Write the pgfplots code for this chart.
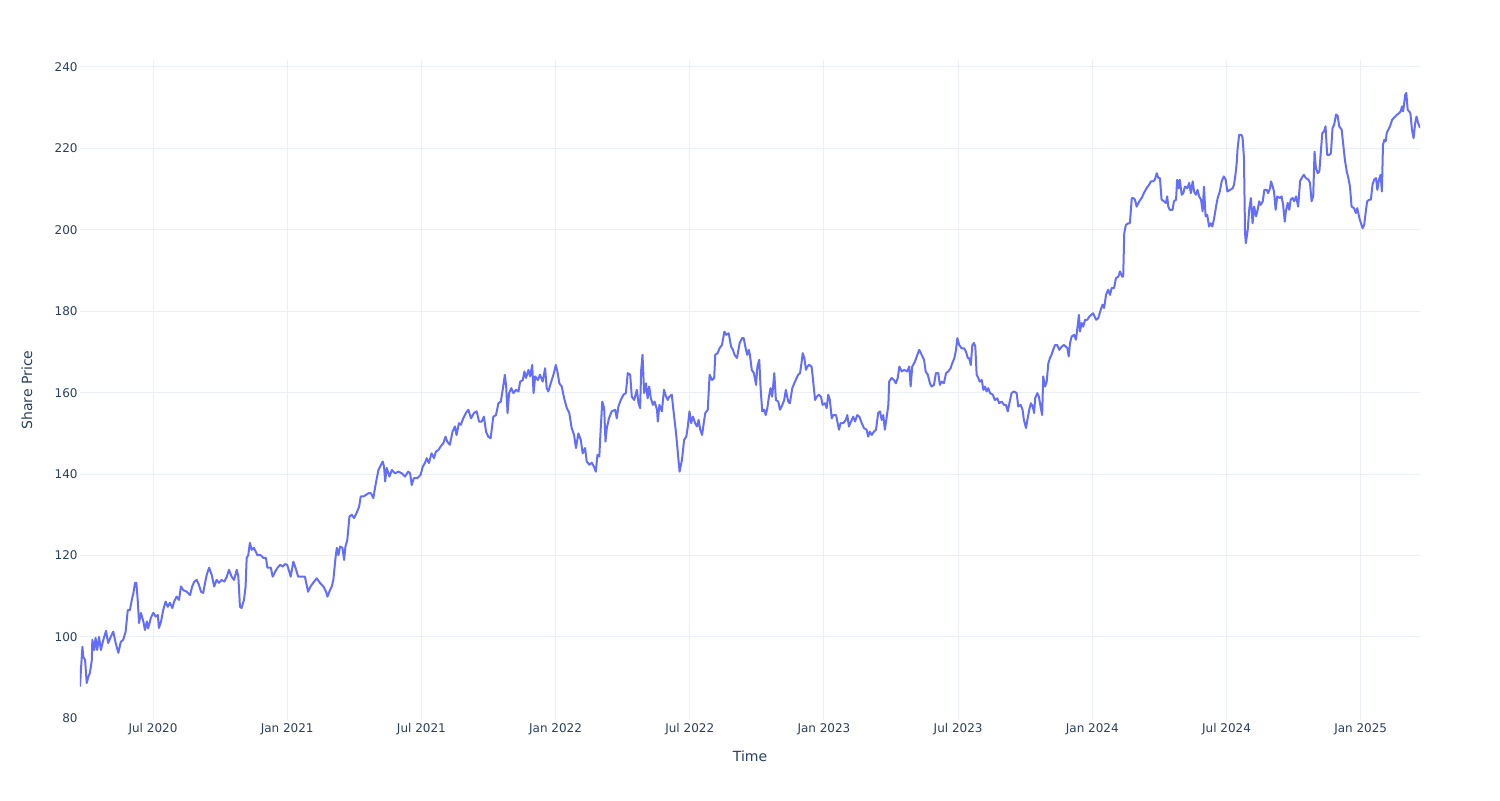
\documentclass[border=0pt]{standalone}
\usepackage{fontspec}
\setmainfont{DejaVu Sans}
\usepackage{pgfplots}
\usepackage{pgfplotstable}
\pgfplotsset{compat=1.18}
\definecolor{plotblue}{HTML}{636EFA}
\definecolor{gridc}{HTML}{EBF0F8}
\definecolor{txt}{HTML}{2A3F5F}
\pgfplotstableread{
t p
2020.228 87.8
2020.232 92.4
2020.237 97.6
2020.240 95.2
2020.247 94.3
2020.253 88.7
2020.259 90.2
2020.265 91.2
2020.272 94.3
2020.274 99.3
2020.281 96.8
2020.286 99.8
2020.292 96.8
2020.299 100.0
2020.306 96.8
2020.315 99.3
2020.325 101.5
2020.333 98.5
2020.343 100.1
2020.352 101.3
2020.361 98.5
2020.371 96.1
2020.380 98.8
2020.389 99.3
2020.398 101.3
2020.406 106.6
2020.414 106.6
2020.421 109.1
2020.427 110.8
2020.433 113.3
2020.438 113.3
2020.443 109.1
2020.448 103.4
2020.455 105.9
2020.464 103.8
2020.470 101.7
2020.477 103.8
2020.482 102.1
2020.492 104.7
2020.501 105.9
2020.510 105.0
2020.518 105.4
2020.522 102.2
2020.530 103.8
2020.538 106.6
2020.547 108.7
2020.555 107.4
2020.563 108.4
2020.572 107.1
2020.579 108.7
2020.588 109.9
2020.597 109.1
2020.604 112.4
2020.613 111.5
2020.626 111.1
2020.638 110.3
2020.646 112.4
2020.654 113.6
2020.663 114.0
2020.671 112.8
2020.679 111.1
2020.687 110.8
2020.694 113.3
2020.700 115.2
2020.709 117.0
2020.719 115.2
2020.728 112.4
2020.737 114.0
2020.746 113.3
2020.756 114.0
2020.766 113.6
2020.775 114.8
2020.783 116.5
2020.793 114.8
2020.802 114.0
2020.812 116.5
2020.818 114.8
2020.824 107.4
2020.830 107.1
2020.839 109.1
2020.845 112.4
2020.849 119.4
2020.855 120.1
2020.861 123.1
2020.868 121.4
2020.876 121.9
2020.889 120.1
2020.901 120.1
2020.911 119.4
2020.921 119.4
2020.926 117.0
2020.939 117.0
2020.946 114.8
2020.955 116.0
2020.964 117.0
2020.974 117.7
2020.984 117.3
2020.992 117.9
2021.000 117.7
2021.008 116.0
2021.013 114.8
2021.023 118.5
2021.031 117.0
2021.041 114.8
2021.054 114.8
2021.066 114.8
2021.078 111.1
2021.087 112.4
2021.097 113.3
2021.110 114.4
2021.122 113.3
2021.135 112.4
2021.145 111.1
2021.150 109.9
2021.157 111.1
2021.166 112.4
2021.172 114.0
2021.180 119.4
2021.185 121.9
2021.191 120.1
2021.197 122.2
2021.206 121.9
2021.212 118.9
2021.217 122.2
2021.224 123.8
2021.232 129.6
2021.241 130.0
2021.249 129.2
2021.259 130.5
2021.268 132.0
2021.274 134.5
2021.284 134.5
2021.294 134.9
2021.303 135.3
2021.312 135.3
2021.321 134.1
2021.328 136.9
2021.334 139.0
2021.340 141.0
2021.346 141.8
2021.356 143.1
2021.361 141.8
2021.365 138.2
2021.371 141.5
2021.381 139.4
2021.390 141.0
2021.402 140.2
2021.414 140.6
2021.427 140.2
2021.439 139.4
2021.451 140.6
2021.458 140.2
2021.464 137.3
2021.472 139.0
2021.485 139.0
2021.497 139.8
2021.505 141.8
2021.513 142.7
2021.520 143.9
2021.528 142.7
2021.538 145.1
2021.547 143.9
2021.554 145.5
2021.563 145.9
2021.572 146.8
2021.582 147.6
2021.590 149.2
2021.596 148.0
2021.606 147.2
2021.616 150.4
2021.625 151.7
2021.631 149.6
2021.640 152.5
2021.647 152.1
2021.656 153.7
2021.666 155.0
2021.675 155.8
2021.685 153.7
2021.696 155.0
2021.706 155.4
2021.715 152.9
2021.725 152.9
2021.733 154.1
2021.741 150.4
2021.749 149.2
2021.758 148.8
2021.768 154.1
2021.778 154.5
2021.787 157.4
2021.796 157.8
2021.803 160.7
2021.811 164.4
2021.816 161.5
2021.821 155.0
2021.827 159.9
2021.835 161.1
2021.843 159.9
2021.853 160.7
2021.862 160.3
2021.868 162.7
2021.878 163.1
2021.884 165.2
2021.890 163.6
2021.899 165.6
2021.905 164.0
2021.913 166.8
2021.918 159.9
2021.924 164.0
2021.934 163.1
2021.942 164.4
2021.952 162.7
2021.961 166.0
2021.967 161.1
2021.973 160.3
2021.982 162.3
2021.992 164.4
2022.001 166.8
2022.008 164.8
2022.014 162.3
2022.023 161.5
2022.032 158.6
2022.042 156.2
2022.051 155.0
2022.060 151.3
2022.069 149.6
2022.076 146.4
2022.085 150.0
2022.094 148.4
2022.101 145.1
2022.110 146.4
2022.116 143.1
2022.126 142.3
2022.135 142.8
2022.143 141.8
2022.150 140.6
2022.156 144.7
2022.163 144.3
2022.168 150.9
2022.174 157.8
2022.181 156.2
2022.186 148.0
2022.191 151.3
2022.199 153.7
2022.209 155.4
2022.222 155.8
2022.228 153.7
2022.234 156.6
2022.243 158.2
2022.253 159.5
2022.262 159.9
2022.269 164.8
2022.278 164.4
2022.284 159.0
2022.293 158.2
2022.303 160.7
2022.309 157.4
2022.315 156.2
2022.319 165.6
2022.324 169.3
2022.330 159.9
2022.337 162.3
2022.343 158.6
2022.349 161.5
2022.355 158.6
2022.363 157.0
2022.369 157.8
2022.378 155.8
2022.381 152.9
2022.387 157.0
2022.396 155.4
2022.404 160.7
2022.412 159.0
2022.418 158.2
2022.424 159.0
2022.433 159.5
2022.439 155.8
2022.449 150.0
2022.458 143.5
2022.462 140.6
2022.471 143.5
2022.479 148.4
2022.487 149.2
2022.492 151.3
2022.499 155.4
2022.505 152.5
2022.512 154.1
2022.520 152.5
2022.527 151.7
2022.533 153.3
2022.539 150.9
2022.546 149.6
2022.552 152.5
2022.558 155.0
2022.567 155.8
2022.574 164.4
2022.583 163.1
2022.591 163.6
2022.595 169.3
2022.604 169.7
2022.611 170.9
2022.620 171.7
2022.629 175.0
2022.636 174.2
2022.645 174.6
2022.654 171.3
2022.661 170.5
2022.667 169.3
2022.676 168.5
2022.686 172.2
2022.695 173.4
2022.701 173.4
2022.707 171.3
2022.714 169.3
2022.720 170.5
2022.724 169.3
2022.731 165.6
2022.739 164.8
2022.747 161.9
2022.752 166.4
2022.759 168.1
2022.764 161.1
2022.770 155.4
2022.777 155.8
2022.783 154.5
2022.789 156.2
2022.795 159.0
2022.801 161.1
2022.807 159.0
2022.815 164.8
2022.821 158.2
2022.830 157.8
2022.836 155.8
2022.845 157.0
2022.852 158.2
2022.858 160.7
2022.867 157.8
2022.873 157.4
2022.882 161.1
2022.892 162.7
2022.904 164.4
2022.911 164.8
2022.917 167.6
2022.921 169.7
2022.927 168.5
2022.933 165.6
2022.938 166.4
2022.945 166.8
2022.954 166.4
2022.960 162.7
2022.967 158.2
2022.973 159.0
2022.981 159.5
2022.989 159.0
2022.995 157.0
2023.004 157.4
2023.010 156.2
2023.016 159.5
2023.022 158.2
2023.029 153.7
2023.035 154.5
2023.045 154.5
2023.050 152.9
2023.056 150.9
2023.062 152.5
2023.072 152.5
2023.081 153.3
2023.087 154.5
2023.093 151.7
2023.101 152.9
2023.109 154.1
2023.116 152.9
2023.124 154.5
2023.132 154.1
2023.141 152.5
2023.149 151.3
2023.159 150.9
2023.165 149.2
2023.171 150.4
2023.178 149.6
2023.186 150.4
2023.194 150.9
2023.202 155.0
2023.209 155.4
2023.215 153.3
2023.221 154.5
2023.227 150.9
2023.234 154.1
2023.240 157.0
2023.243 162.7
2023.252 163.6
2023.261 163.1
2023.268 162.3
2023.275 163.6
2023.281 166.4
2023.290 165.2
2023.299 165.6
2023.310 165.2
2023.318 166.4
2023.323 161.5
2023.329 166.4
2023.339 167.6
2023.348 169.3
2023.355 170.5
2023.364 169.3
2023.373 168.1
2023.379 165.2
2023.387 164.4
2023.395 162.3
2023.401 161.5
2023.410 161.9
2023.417 164.8
2023.426 164.8
2023.432 161.9
2023.439 162.7
2023.447 162.3
2023.455 164.8
2023.463 165.2
2023.472 166.0
2023.478 167.2
2023.486 168.5
2023.492 170.5
2023.497 173.4
2023.504 171.7
2023.513 170.9
2023.522 170.9
2023.529 170.1
2023.536 168.5
2023.541 168.5
2023.547 166.8
2023.553 171.7
2023.559 172.2
2023.564 171.3
2023.569 164.4
2023.575 163.6
2023.581 162.7
2023.588 163.1
2023.594 160.7
2023.600 161.5
2023.606 160.3
2023.612 161.1
2023.619 159.9
2023.629 159.5
2023.637 158.2
2023.646 158.6
2023.653 157.4
2023.662 157.8
2023.671 157.0
2023.678 157.0
2023.685 155.4
2023.691 157.4
2023.699 159.9
2023.708 160.3
2023.718 159.9
2023.724 156.6
2023.733 157.0
2023.740 155.8
2023.745 153.3
2023.753 151.3
2023.758 153.3
2023.765 155.8
2023.771 157.4
2023.778 156.6
2023.783 155.0
2023.787 158.6
2023.795 159.9
2023.801 159.0
2023.808 156.2
2023.813 154.5
2023.817 164.0
2023.824 161.5
2023.830 162.7
2023.836 167.2
2023.842 168.5
2023.848 169.3
2023.854 170.5
2023.861 171.7
2023.869 171.7
2023.877 170.5
2023.886 171.3
2023.894 171.7
2023.902 171.3
2023.907 170.9
2023.912 168.9
2023.917 172.2
2023.923 173.8
2023.932 174.2
2023.939 173.0
2023.945 176.2
2023.950 179.1
2023.954 175.0
2023.960 177.1
2023.966 176.2
2023.973 177.9
2023.981 177.9
2023.989 178.7
2024.003 179.5
2024.014 177.9
2024.022 178.3
2024.031 180.3
2024.038 181.6
2024.044 180.8
2024.051 184.0
2024.059 185.3
2024.066 184.0
2024.072 185.7
2024.081 185.7
2024.088 188.1
2024.097 188.5
2024.103 189.8
2024.111 188.5
2024.115 188.5
2024.119 199.2
2024.125 201.2
2024.134 201.6
2024.140 201.6
2024.147 207.8
2024.152 207.8
2024.159 207.4
2024.165 205.7
2024.175 207.0
2024.184 207.8
2024.192 209.0
2024.202 210.2
2024.212 211.1
2024.218 211.9
2024.227 211.9
2024.233 212.3
2024.240 213.9
2024.246 212.7
2024.252 212.7
2024.258 207.4
2024.267 207.0
2024.274 206.6
2024.279 208.2
2024.283 205.7
2024.289 204.9
2024.299 204.9
2024.304 207.0
2024.312 207.4
2024.316 212.3
2024.322 210.2
2024.326 212.3
2024.333 208.6
2024.339 209.0
2024.345 210.6
2024.354 210.2
2024.361 211.5
2024.367 209.0
2024.374 211.9
2024.379 209.4
2024.386 208.6
2024.392 209.8
2024.398 208.2
2024.405 207.4
2024.411 204.5
2024.416 210.6
2024.422 203.3
2024.428 203.7
2024.435 200.8
2024.441 201.6
2024.447 200.8
2024.453 202.5
2024.461 205.7
2024.467 207.8
2024.475 209.4
2024.482 211.9
2024.490 213.1
2024.497 212.3
2024.503 209.4
2024.513 209.8
2024.523 210.2
2024.528 211.1
2024.534 213.9
2024.538 216.4
2024.541 219.7
2024.547 223.3
2024.556 223.3
2024.560 222.5
2024.565 217.6
2024.569 199.2
2024.572 196.7
2024.579 200.0
2024.585 205.3
2024.591 207.8
2024.597 201.6
2024.603 205.7
2024.610 203.3
2024.616 204.9
2024.622 207.0
2024.627 206.1
2024.635 207.0
2024.641 209.8
2024.650 209.8
2024.655 209.0
2024.662 210.2
2024.666 211.9
2024.672 210.6
2024.677 209.4
2024.683 204.9
2024.689 208.2
2024.699 207.8
2024.705 208.2
2024.711 206.1
2024.717 202.0
2024.721 204.5
2024.728 206.6
2024.734 204.9
2024.739 207.4
2024.746 207.8
2024.752 207.0
2024.759 208.2
2024.767 205.7
2024.774 211.9
2024.780 212.7
2024.788 213.5
2024.796 212.7
2024.805 212.3
2024.811 211.5
2024.817 207.0
2024.823 208.2
2024.828 219.2
2024.833 215.2
2024.840 213.9
2024.846 214.3
2024.852 219.7
2024.857 223.8
2024.863 224.1
2024.869 225.4
2024.875 218.4
2024.883 218.4
2024.889 218.8
2024.895 225.0
2024.901 225.8
2024.908 228.3
2024.914 228.0
2024.920 225.4
2024.929 224.6
2024.935 220.9
2024.941 217.2
2024.948 214.3
2024.954 212.7
2024.960 210.6
2024.966 205.7
2024.975 205.3
2024.982 204.1
2024.987 205.3
2024.995 202.9
2025.001 201.6
2025.007 200.4
2025.013 201.2
2025.019 204.5
2025.024 207.0
2025.032 207.4
2025.038 207.4
2025.044 211.1
2025.050 212.3
2025.057 212.7
2025.062 209.8
2025.068 212.3
2025.074 213.5
2025.079 209.4
2025.083 220.9
2025.088 222.1
2025.093 221.7
2025.097 223.8
2025.103 224.6
2025.109 225.4
2025.117 227.0
2025.128 227.8
2025.136 228.3
2025.144 228.7
2025.149 229.1
2025.154 230.3
2025.158 229.1
2025.162 231.1
2025.166 233.2
2025.170 233.6
2025.175 229.5
2025.180 229.1
2025.185 228.7
2025.191 224.6
2025.197 222.5
2025.203 226.2
2025.208 227.8
2025.214 226.2
2025.221 225.0
}\pricedata
\begin{document}
\begin{tikzpicture}
\useasboundingbox (0pt,0pt) rectangle (750pt,400pt);
\begin{axis}[
  at={(40pt,40pt)}, anchor=south west,
  width=670pt, height=330pt, scale only axis,
  xmin=2020.228, xmax=2025.221, ymin=79.6, ymax=241.7,
  axis line style={draw=none},
  major tick length=0pt,
  tick style={draw=none},
  grid=major,
  major grid style={draw=gridc, line width=0.5pt},
  xtick={2020.5,2021,2021.5,2022,2022.5,2023,2023.5,2024,2024.5,2025},
  xticklabels={Jul 2020,Jan 2021,Jul 2021,Jan 2022,Jul 2022,Jan 2023,Jul 2023,Jan 2024,Jul 2024,Jan 2025},
  ytick={100,120,...,240},
  extra y ticks={80},
  extra y tick style={grid=none},
  /pgf/number format/assume math mode=true,
  ticklabel style={text=txt, font=\fontsize{6}{7}\selectfont},
  xticklabel style={anchor=center, yshift=-4.5pt},
  yticklabel style={anchor=east, inner sep=0pt, xshift=-1pt},
  xlabel={Time}, ylabel={Share Price},
  label style={text=txt, font=\fontsize{7}{8}\selectfont},
  xlabel style={at={(axis description cs:0.5,-0.0545)}, anchor=center},
  ylabel style={at={(axis description cs:-0.0396,0.5)}, anchor=center},
]
\addplot[plotblue, line width=1pt, line join=round, no markers] table[x=t, y=p] {\pricedata};
\end{axis}
\end{tikzpicture}
\end{document}
